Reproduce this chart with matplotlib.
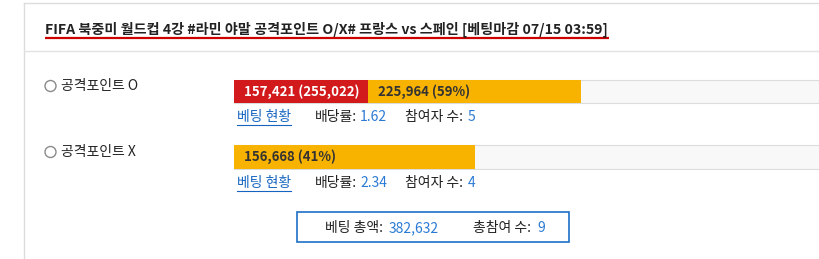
import matplotlib.pyplot as plt
from matplotlib.patches import Circle, Rectangle

plt.rcParams['font.family'] = ['Noto Sans CJK KR', 'DejaVu Sans']

title = "FIFA 북중미 월드컵 4강 #라민 야말 공격포인트 O/X# 프랑스 vs 스페인 [베팅마감 07/15 03:59]"
options = ["공격포인트 O", "공격포인트 X"]
amounts = [225964, 156668]
percents = [59, 41]
highlight = ["157,421 (255,022)", None]
odds = ["1.62", "2.34"]
players = ["5", "4"]
total_amount = "382,632"
total_players = "9"

RED = "#d2191c"
ORANGE = "#f8b300"
BLUE = "#2a7ad3"
LINK = "#1565c0"
DARK = "#222222"
FS = 10

fig = plt.figure(figsize=(8.2, 2.59), dpi=100)
fig.patch.set_facecolor("white")

# page layer in pixel coordinates
bg = fig.add_axes([0, 0, 1, 1])
bg.set_xlim(0, 820)
bg.set_ylim(259, 0)
bg.axis("off")

# card frame + header separator
bg.plot([24, 24], [3, 259], color="#dcdcdc", lw=1)
bg.plot([24, 820], [3, 3], color="#dcdcdc", lw=1)
bg.plot([24, 820], [51, 51], color="#e2e2e2", lw=1)

t = bg.text(45, 33, title, fontsize=10.15, fontweight="bold", color=DARK, va="baseline")
fig.canvas.draw()
inv = bg.transData.inverted()
ext = t.get_window_extent()
x0 = inv.transform((ext.x0, 0))[0]
x1 = inv.transform((ext.x1, 0))[0]
bg.plot([x0, x1 + 1], [38, 38], color="#cc0000", lw=1.6, solid_capstyle="butt")

# bars on their own axes
bar_ax = fig.add_axes([234 / 820, 1 - 170.1 / 259, 588 / 820, 91.7 / 259])
bar_ax.axis("off")
total = sum(amounts)
bar_ax.set_xlim(0, total)
bar_ax.set_ylim(1.2, -0.2)
ys = list(range(len(options)))
h = 0.36

bar_ax.barh(ys, [total * 1.2] * len(ys), height=h, color="#f8f8f8", edgecolor="#dcdcdc", lw=0.8)
bar_ax.barh(ys, amounts, height=h, color=ORANGE, zorder=2)

row_y = [86, 152]
for i, y in enumerate(ys):
    start = 0
    if highlight[i]:
        ht = bar_ax.annotate(highlight[i], xy=(0, y), xytext=(10, 0), textcoords="offset pixels",
                             color="white", fontsize=9.5, fontweight="bold", va="center", zorder=4)
        fig.canvas.draw()
        e = ht.get_window_extent()
        start = bar_ax.transData.inverted().transform((e.x1 + 9, 0))[0]
        bar_ax.barh(y, start, height=h, color=RED, zorder=3)
    bar_ax.annotate(f"{amounts[i]:,} ({percents[i]}%)", xy=(start, y), xytext=(10, 0),
                    textcoords="offset pixels", color="#333333", fontsize=9.5,
                    fontweight="bold", va="center", zorder=4)

    # option label with radio button
    ry = row_y[i]
    bg.add_patch(Circle((50.5, ry), 5.5, facecolor="white", edgecolor="#8a8a8a", lw=1))
    bg.text(61, ry, options[i], fontsize=FS, color=DARK, va="center")

    # info line
    ly = ry + 31
    lt = bg.text(237, ly, "베팅 현황", fontsize=FS, color=LINK, va="center")
    fig.canvas.draw()
    e = lt.get_window_extent()
    bx0 = inv.transform((e.x0, 0))[0]
    bx1 = inv.transform((e.x1, 0))[0]
    bg.plot([bx0, bx1], [ly + 8, ly + 8], color=LINK, lw=0.8)
    bg.text(315, ly, "배당률:", fontsize=FS, color=DARK, va="center")
    bg.text(360, ly, odds[i], fontsize=FS, color=BLUE, va="center")
    bg.text(405, ly, "참여자 수:", fontsize=FS, color=DARK, va="center")
    bg.text(468, ly, players[i], fontsize=FS, color=BLUE, va="center")

# summary box
bg.add_patch(Rectangle((297, 212), 272, 30, facecolor="white", edgecolor="#1e6fc8", lw=1.2))
bg.text(325, 228, "베팅 총액:", fontsize=FS, color=DARK, va="center")
bg.text(389, 228, total_amount, fontsize=FS, color=BLUE, va="center")
bg.text(473, 228, "총참여 수:", fontsize=FS, color=DARK, va="center")
bg.text(537, 228, total_players, fontsize=FS, color=BLUE, va="center")

fig.savefig("out.png", dpi=100)
